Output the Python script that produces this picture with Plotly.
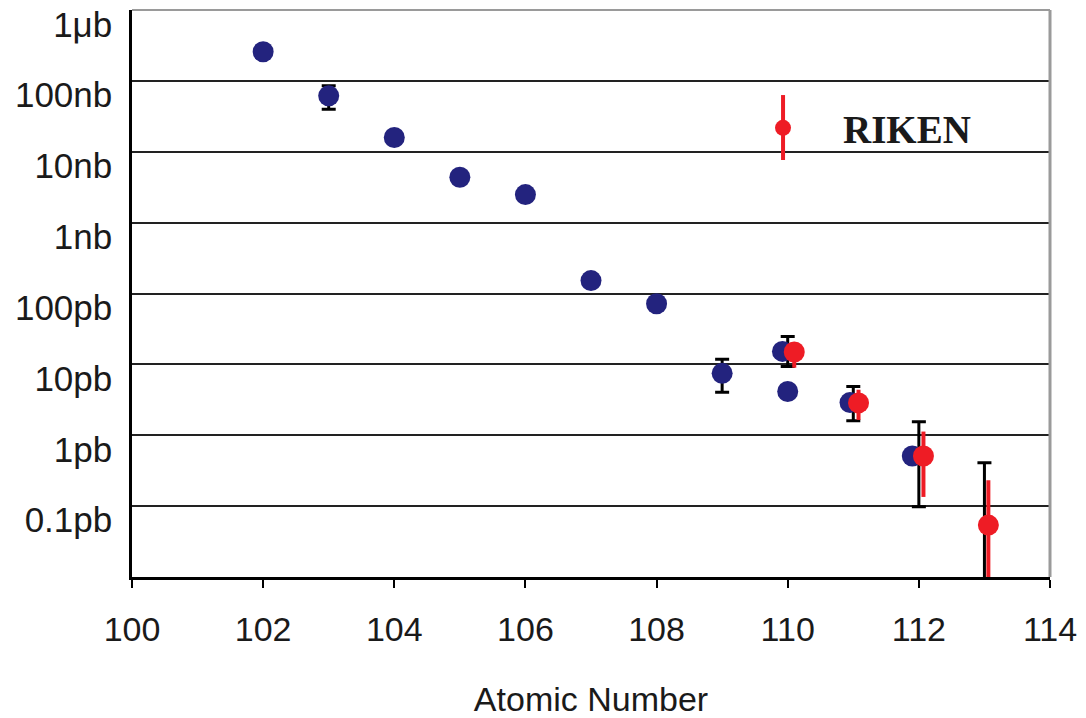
import plotly.graph_objects as go

# ---- data (cross sections in pb) ----
blue_z = [102, 103, 104, 105, 106, 107, 108, 109, 109.92, 110.0, 110.95, 111.9]
blue_sigma = [2.6e5, 6.2e4, 1.6e4, 4.4e3, 2.5e3, 153, 72, 7.5, 15.3, 4.15, 2.9, 0.51]

# uncertainty ranges drawn as black bars
bar_z = [103, 109, 110, 111, 112, 113]
bar_mid = [6.2e4, 7.5, 15.3, 2.9, 0.51, 0.054]
bar_hi = [8.6e4, 11.9, 24.9, 4.9, 1.56, 0.41]
bar_lo = [4.0e4, 4.06, 9.4, 1.6, 0.098, 0.003]

riken_z = [110.1, 111.08, 112.07, 113.06]
riken_sigma = [15.0, 2.87, 0.51, 0.054]
riken_hi = [18.0, 4.4, 1.13, 0.233]
riken_lo = [9.0, 1.65, 0.135, 0.003]

x_ticks = [100, 102, 104, 106, 108, 110, 112, 114]
y_ticks = [0.1, 1, 10, 100, 1e3, 1e4, 1e5, 1e6]
y_labels = ["0.1pb", "1pb", "10pb", "100pb", "1nb", "10nb", "100nb", "1μb"]

BLUE = "#23237e"
RED = "#ee1c25"
INK = "#1a1a1a"
SANS = "Liberation Sans, Arial, sans-serif"

fig = go.Figure()

fig.add_trace(go.Scatter(
    x=bar_z, y=bar_mid, mode="markers",
    marker=dict(size=1, color="rgba(0,0,0,0)"),
    error_y=dict(type="data", symmetric=False,
                 array=[h - m for h, m in zip(bar_hi, bar_mid)],
                 arrayminus=[m - l for m, l in zip(bar_mid, bar_lo)],
                 color="black", thickness=3, width=7),
    showlegend=False, hoverinfo="skip",
))

fig.add_trace(go.Scatter(
    x=blue_z, y=blue_sigma, mode="markers",
    marker=dict(size=21, color=BLUE, line=dict(width=0)),
    showlegend=False,
))

fig.add_trace(go.Scatter(
    x=riken_z, y=riken_sigma, mode="markers", name="RIKEN",
    marker=dict(size=21, color=RED, line=dict(width=0)),
    error_y=dict(type="data", symmetric=False,
                 array=[h - m for h, m in zip(riken_hi, riken_sigma)],
                 arrayminus=[m - l for m, l in zip(riken_sigma, riken_lo)],
                 color=RED, thickness=4, width=0),
    showlegend=True,
))

# legend placement (paper coordinates); key symbol sits 60 px into the item
LEG_X = 0.6438
LEG_Y = 0.792
KEY_X = 0.7092

fig.update_layout(
    width=1086, height=718, autosize=False,
    plot_bgcolor="white", paper_bgcolor="white",
    margin=dict(l=132, r=36, t=10, b=141, pad=0),
    xaxis=dict(
        range=[100, 114], tickvals=x_ticks, ticktext=[str(v) for v in x_ticks],
        ticks="outside", ticklen=8, tickwidth=2, tickcolor="black",
        showline=True, linewidth=2.5, linecolor="black",
        showgrid=False, zeroline=False, automargin=False,
        tickfont=dict(family=SANS, size=34, color=INK),
        ticklabelstandoff=12,
        title=dict(text="Atomic Number", font=dict(family=SANS, size=34, color=INK), standoff=46),
    ),
    xaxis2=dict(
        overlaying="x", anchor="y", side="bottom", range=[100, 114],
        tick0=100, dtick=1, ticks="inside", ticklen=5, tickwidth=2, tickcolor="black",
        showticklabels=False, showline=False, showgrid=False, zeroline=False,
        automargin=False,
    ),
    yaxis=dict(
        type="log", range=[-2, 6.004], tickvals=y_ticks, ticktext=y_labels,
        ticks="", showgrid=True, gridcolor="#222222", gridwidth=2,
        showline=True, linewidth=2.5, linecolor="black", zeroline=False,
        automargin=False,
        tickfont=dict(family=SANS, size=35, color=INK),
        ticklabelshift=14, ticklabelstandoff=10,
    ),
    legend=dict(
        x=LEG_X, y=LEG_Y, xanchor="left", yanchor="middle",
        bgcolor="rgba(0,0,0,0)", borderwidth=0, itemwidth=110,
        font=dict(family="Liberation Serif, Times New Roman, serif", size=39, color=INK, weight="bold"),
    ),
    shapes=[
        dict(type="line", xref="paper", yref="paper", x0=0, x1=1, y0=1, y1=1,
             line=dict(color="#9a9a9a", width=2), layer="above"),
        dict(type="line", xref="paper", yref="paper", x0=1, x1=1, y0=0, y1=1,
             line=dict(color="#9a9a9a", width=3), layer="above"),
        dict(type="line", xref="paper", yref="paper", x0=KEY_X, x1=KEY_X, y0=0.7354, y1=0.850,
             line=dict(color=RED, width=4), layer="above"),
    ],
)

fig.write_html("out.html")
